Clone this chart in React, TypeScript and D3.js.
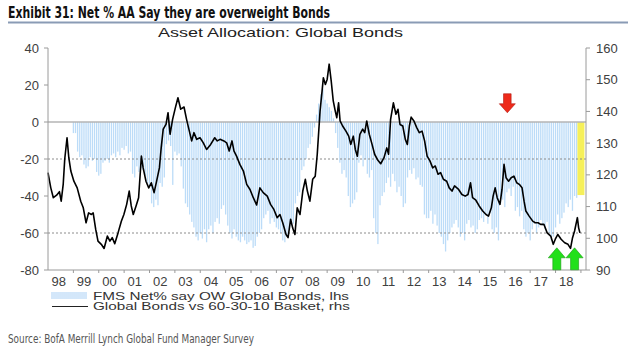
import React from 'react';
import * as d3 from 'd3';

// FMS net % overweight global bonds, monthly, lhs (Jan..Dec per year)
const barYears = [1999, 2000, 2001, 2002, 2003, 2004, 2005, 2006, 2007, 2008, 2009, 2010, 2011, 2012, 2013, 2014, 2015, 2016, 2017, 2018];
const fmsNet = [
  [-6, -6, -16, -19, -18, -23, -25, -24, -19, -21, -20, -27],
  [-29, -28, -22, -21, -20, -22, -18, -17, -19, -16, -18, -14],
  [-15, -13, -17, -16, -28, -30, -24, -27, -25, -26, -29, -33],
  [-35, -44, -46, -42, -45, -33, -35, -30, -12, -10, -13, -34],
  [-16, -18, -17, -24, -36, -44, -46, -50, -54, -57, -62, -64],
  [-60, -63, -58, -65, -58, -56, -60, -54, -52, -55, -47, -45],
  [-50, -56, -60, -63, -58, -62, -64, -65, -62, -64, -66, -65],
  [-64, -68, -67, -62, -60, -58, -52, -50, -48, -55, -52, -54],
  [-57, -58, -60, -64, -65, -62, -58, -56, -55, -44, -40, -38],
  [-26, -24, -20, -14, -12, -8, -3, 4, 10, 15, 18, 12],
  [10, 8, 6, 2, -6, -14, -22, -28, -26, -30, -40, -46],
  [-44, -42, -38, -22, -18, -24, -20, -28, -30, -26, -52, -60],
  [-66, -45, -40, -38, -33, -30, -35, -28, -32, -38, -35, -40],
  [-46, -44, -30, -26, -28, -25, -31, -30, -34, -35, -50, -52],
  [-52, -48, -55, -50, -56, -60, -62, -66, -70, -64, -60, -57],
  [-55, -53, -57, -62, -60, -64, -55, -53, -57, -56, -60, -58],
  [-53, -52, -54, -50, -55, -49, -58, -60, -57, -64, -44, -42],
  [-46, -38, -36, -40, -35, -48, -46, -51, -48, -58, -62, -60],
  [-64, -58, -55, -60, -57, -53, -56, -58, -54, -60, -64, -62],
  [-57, -50, -55, -52, -49, -44, -46, -42, -48, -40, -41, -38],
];
const latestDate = 2019.0;
const latestFms = -39.5;

// Global bonds vs 60-30-10 basket, rhs
const lineDates = [
  1998.00, 1998.11, 1998.21, 1998.34, 1998.45, 1998.52, 1998.60, 1998.66, 1998.75, 1998.82, 1998.90,
  1999.02, 1999.15, 1999.29, 1999.39, 1999.50, 1999.60, 1999.71, 1999.78, 1999.88, 1999.97,
  2000.10, 2000.21, 2000.34, 2000.44, 2000.53, 2000.63, 2000.76, 2000.89, 2000.99,
  2001.10, 2001.20, 2001.28, 2001.36, 2001.47, 2001.57, 2001.68, 2001.75, 2001.86, 2001.97,
  2002.07, 2002.18, 2002.28, 2002.39, 2002.46, 2002.54, 2002.65, 2002.73, 2002.81, 2002.91,
  2003.02, 2003.12, 2003.23, 2003.36, 2003.46, 2003.57, 2003.66, 2003.75, 2003.86, 2003.99,
  2004.12, 2004.25, 2004.41, 2004.57, 2004.67, 2004.78, 2004.93,
  2005.04, 2005.14, 2005.25, 2005.33, 2005.43, 2005.56, 2005.70, 2005.83, 2005.96,
  2006.09, 2006.22, 2006.35, 2006.48, 2006.64, 2006.77, 2006.90,
  2007.03, 2007.14, 2007.25, 2007.38, 2007.46, 2007.56, 2007.64, 2007.73, 2007.82, 2007.93,
  2008.04, 2008.14, 2008.22, 2008.32, 2008.43, 2008.53, 2008.61, 2008.72, 2008.80, 2008.85, 2008.93,
  2009.00, 2009.08, 2009.16, 2009.24, 2009.32, 2009.38, 2009.45, 2009.51, 2009.61, 2009.74, 2009.85, 2009.93,
  2010.03, 2010.11, 2010.19, 2010.29, 2010.40, 2010.48, 2010.56, 2010.66, 2010.77, 2010.87,
  2011.00, 2011.11, 2011.24, 2011.35, 2011.42, 2011.50, 2011.61, 2011.71, 2011.79, 2011.87, 2011.98,
  2012.08, 2012.16, 2012.24, 2012.31, 2012.42, 2012.53, 2012.63, 2012.74, 2012.84, 2012.94,
  2013.05, 2013.16, 2013.26, 2013.37, 2013.47, 2013.58, 2013.71, 2013.81, 2013.92,
  2014.02, 2014.18, 2014.31, 2014.44, 2014.55, 2014.65, 2014.73, 2014.86, 2014.99,
  2015.13, 2015.26, 2015.36, 2015.47, 2015.54, 2015.62, 2015.70, 2015.81, 2015.89, 2015.97,
  2016.05, 2016.15, 2016.25, 2016.36, 2016.47, 2016.57, 2016.68, 2016.76, 2016.83, 2016.96,
  2017.10, 2017.20, 2017.31, 2017.41, 2017.54, 2017.67, 2017.81, 2017.91, 2017.99,
  2018.09, 2018.22, 2018.36, 2018.49, 2018.59, 2018.67, 2018.75, 2018.86, 2018.91, 2018.96,
];
const lineValues = [
  120.7, 115.9, 112.8, 113.6, 114.7, 111.7, 117.1, 125.0, 131.7, 125.4, 121.2,
  118.0, 115.9, 111.7, 109.6, 104.9, 108.0, 107.5, 108.0, 102.8, 99.1,
  98.1, 96.8, 100.7, 99.1, 100.2, 98.3, 101.7, 105.4, 107.5,
  110.7, 114.9, 110.2, 107.5, 110.2, 112.8, 125.9, 122.2, 118.0, 115.9,
  117.5, 114.4, 118.0, 122.2, 128.5, 134.4, 135.9, 139.6, 132.8, 137.5,
  141.2, 144.3, 140.7, 141.4, 137.5, 133.8, 130.7, 133.3, 131.2, 131.7,
  130.1, 128.0, 129.6, 131.7, 130.7, 131.2, 130.7,
  130.1, 127.5, 130.7, 127.5, 125.9, 123.3, 121.2, 117.0, 115.4,
  112.8, 110.5, 115.9, 114.4, 113.3, 110.7, 109.1,
  106.5, 107.5, 104.9, 101.2, 100.2, 106.0, 103.3, 101.2, 109.6, 107.5,
  114.9, 118.6, 114.9, 111.7, 118.6, 119.6, 126.5, 140.1, 146.4, 150.6, 148.5,
  150.1, 154.9, 149.6, 143.3, 140.1, 138.0, 142.7, 137.0, 135.4, 133.8, 132.2, 129.6,
  132.2, 128.0, 125.9, 132.8, 134.4, 133.3, 137.0, 132.8, 129.6, 126.5,
  124.6, 123.5, 125.4, 128.5, 126.5, 137.5, 142.7, 139.1, 140.7, 135.9, 135.4,
  131.2, 129.6, 135.4, 138.2, 137.0, 134.9, 133.3, 133.8, 130.7, 125.9,
  124.4, 122.2, 122.8, 120.2, 120.7, 118.6, 118.0, 115.9, 114.9,
  116.5, 115.4, 113.8, 113.3, 113.8, 117.5, 112.8, 112.0, 110.2,
  108.6, 107.5, 107.0, 109.6, 113.3, 115.9, 112.8, 110.7, 115.4, 123.3,
  119.1, 118.0, 119.1, 119.6, 117.5, 117.0, 115.9, 111.7, 108.6, 107.0,
  105.4, 104.9, 104.9, 104.4, 104.4, 101.7, 100.7, 98.1, 99.7,
  101.2, 99.7, 98.6, 98.1, 96.8, 100.2, 102.3, 106.5, 103.3, 101.7,
];

const yearLabels = ['98', '99', '00', '01', '02', '03', '04', '05', '06', '07', '08', '09', '10', '11', '12', '13', '14', '15', '16', '17', '18'];
const lhsTicks = [40, 20, 0, -20, -40, -60, -80];
const rhsTicks = [90, 100, 110, 120, 130, 140, 150, 160];
const lhsGrid = [-20, -60];
const redArrowAt = [2016.1];
const greenArrowsAt = [2018.05, 2018.75];

const FONT = "'Liberation Sans', Arial, sans-serif";
const NARROW = "'Liberation Sans Narrow', 'DejaVu Sans Condensed', sans-serif";
const AXIS_COL = '#9a9a9a';
const TEXT_COL = '#404040';

const App: React.FC = () => {
  const left = 48, right = 586, top = 48, bottom = 270;
  const x = d3.scaleLinear().domain([1998, 2019.2]).range([left, right]);
  const yL = d3.scaleLinear().domain([-80, 40]).range([bottom, top]);
  const yR = d3.scaleLinear().domain([90, 160]).range([bottom, top]);

  const bars = barYears.flatMap((yr, yi) =>
    fmsNet[yi].map((v, m) => ({ date: yr + m / 12, value: v }))
  );

  const linePath = d3.line<number>()
    .x((_, i) => x(lineDates[i]))
    .y(d => yR(d))(lineValues) || '';

  const firstYear = 1998;
  const yearTicks = d3.range(1999, 2020);

  const downArrow = (cx: number, tipY: number, col: string) => {
    const h = 19, hw = 8, sw = 3.8, hh = 9;
    const t = tipY - h;
    return (
      <path
        d={`M${cx - sw},${t} L${cx + sw},${t} L${cx + sw},${tipY - hh} L${cx + hw},${tipY - hh} L${cx},${tipY} L${cx - hw},${tipY - hh} L${cx - sw},${tipY - hh} Z`}
        fill={col} stroke="#b01a10" strokeWidth={0.6}
      />
    );
  };
  const upArrow = (cx: number, tipY: number, col: string) => {
    const h = 22, hw = 8.5, sw = 4, hh = 10;
    const b = tipY + h;
    return (
      <path
        d={`M${cx - sw},${b} L${cx + sw},${b} L${cx + sw},${tipY + hh} L${cx + hw},${tipY + hh} L${cx},${tipY} L${cx - hw},${tipY + hh} L${cx - sw},${tipY + hh} Z`}
        fill={col} stroke="#1a9a10" strokeWidth={0.6}
      />
    );
  };

  return (
    <svg width={640} height={352} style={{ position: 'absolute', left: 0, top: 0, background: '#fff' }}>
      {/* header */}
      <text x={8} y={18} fontFamily={NARROW} fontWeight="bold" fontSize={15.5} fill="#111"
        textLength={322} lengthAdjust="spacingAndGlyphs">
        Exhibit 31: Net % AA Say they are overweight Bonds
      </text>
      <line x1={8} x2={628} y1={22.5} y2={22.5} stroke="#8a9bb5" strokeWidth={2} />
      <text x={158} y={36.5} fontFamily={FONT} fontSize={13} fill="#222"
        textLength={245} lengthAdjust="spacingAndGlyphs">
        Asset Allocation: Global Bonds
      </text>

      {/* bars */}
      {bars.map((b, i) => (
        <rect key={i} x={x(b.date) - 0.65} width={1.3}
          y={Math.min(yL(b.value), yL(0))} height={Math.abs(yL(b.value) - yL(0))}
          fill="#bcdcf8" />
      ))}
      <rect x={x(latestDate) - 3.5} width={7} y={yL(0)} height={yL(latestFms) - yL(0)} fill="#f6f05a" />

      {/* grid */}
      {lhsGrid.map(g => (
        <line key={g} x1={left} x2={right} y1={yL(g)} y2={yL(g)} stroke="#8c8c8c" strokeWidth={1} strokeDasharray="2,2" />
      ))}
      <line x1={left} x2={right} y1={yL(0)} y2={yL(0)} stroke="#b4b4b4" strokeWidth={1.5} />

      {/* line */}
      <path d={linePath} fill="none" stroke="#000" strokeWidth={1.6} strokeLinejoin="round" />

      {/* axes */}
      <line x1={left} x2={left} y1={top} y2={bottom} stroke={AXIS_COL} />
      <line x1={right} x2={right} y1={top} y2={bottom} stroke={AXIS_COL} />
      <line x1={left} x2={right} y1={bottom} y2={bottom} stroke={AXIS_COL} />
      {lhsTicks.map(t => (
        <g key={t}>
          <line x1={left - 4} x2={left} y1={yL(t)} y2={yL(t)} stroke={AXIS_COL} />
          <text x={left - 9} y={yL(t) + 4.5} textAnchor="end" fontFamily={FONT} fontSize={13} fill={TEXT_COL}>{t}</text>
        </g>
      ))}
      {rhsTicks.map(t => (
        <g key={t}>
          <line x1={right} x2={right + 4} y1={yR(t)} y2={yR(t)} stroke={AXIS_COL} />
          <text x={right + 10} y={yR(t) + 4.5} fontFamily={FONT} fontSize={13} fill={TEXT_COL}>{t}</text>
        </g>
      ))}
      {yearTicks.map(t => (
        <line key={t} x1={x(t)} x2={x(t)} y1={bottom} y2={bottom + 3} stroke={AXIS_COL} />
      ))}
      {yearLabels.map((l, i) => (
        <text key={l} x={x(firstYear + i + 0.42)} y={bottom + 16} textAnchor="middle" fontFamily={FONT} fontSize={13} fill={TEXT_COL}>{l}</text>
      ))}

      {/* annotations */}
      {redArrowAt.map(a => <g key={a}>{downArrow(x(a), yL(5), '#ee2a1a')}</g>)}
      {greenArrowsAt.map(a => <g key={a}>{upArrow(x(a), yR(97), '#22e01a')}</g>)}

      {/* legend */}
      {d3.range(0, 18).map(i => (
        <line key={i} x1={52 + i * 2} x2={52 + i * 2} y1={292} y2={299} stroke="#a8cff5" strokeWidth={1} />
      ))}
      <text x={93} y={299.5} fontFamily={FONT} fontSize={10.5} fill="#333"
        textLength={256} lengthAdjust="spacingAndGlyphs">FMS Net% say OW Global Bonds, lhs</text>
      <line x1={52} x2={88} y1={306.5} y2={306.5} stroke="#222" strokeWidth={1} />
      <text x={93} y={310} fontFamily={FONT} fontSize={10.5} fill="#333"
        textLength={257} lengthAdjust="spacingAndGlyphs">Global Bonds vs 60-30-10 Basket, rhs</text>

      <text x={8} y={343} fontFamily={NARROW} fontSize={12} fill="#555" textLength={246} lengthAdjust="spacingAndGlyphs">
        Source:  BofA Merrill Lynch Global Fund Manager Survey
      </text>
    </svg>
  );
};

export default App;
